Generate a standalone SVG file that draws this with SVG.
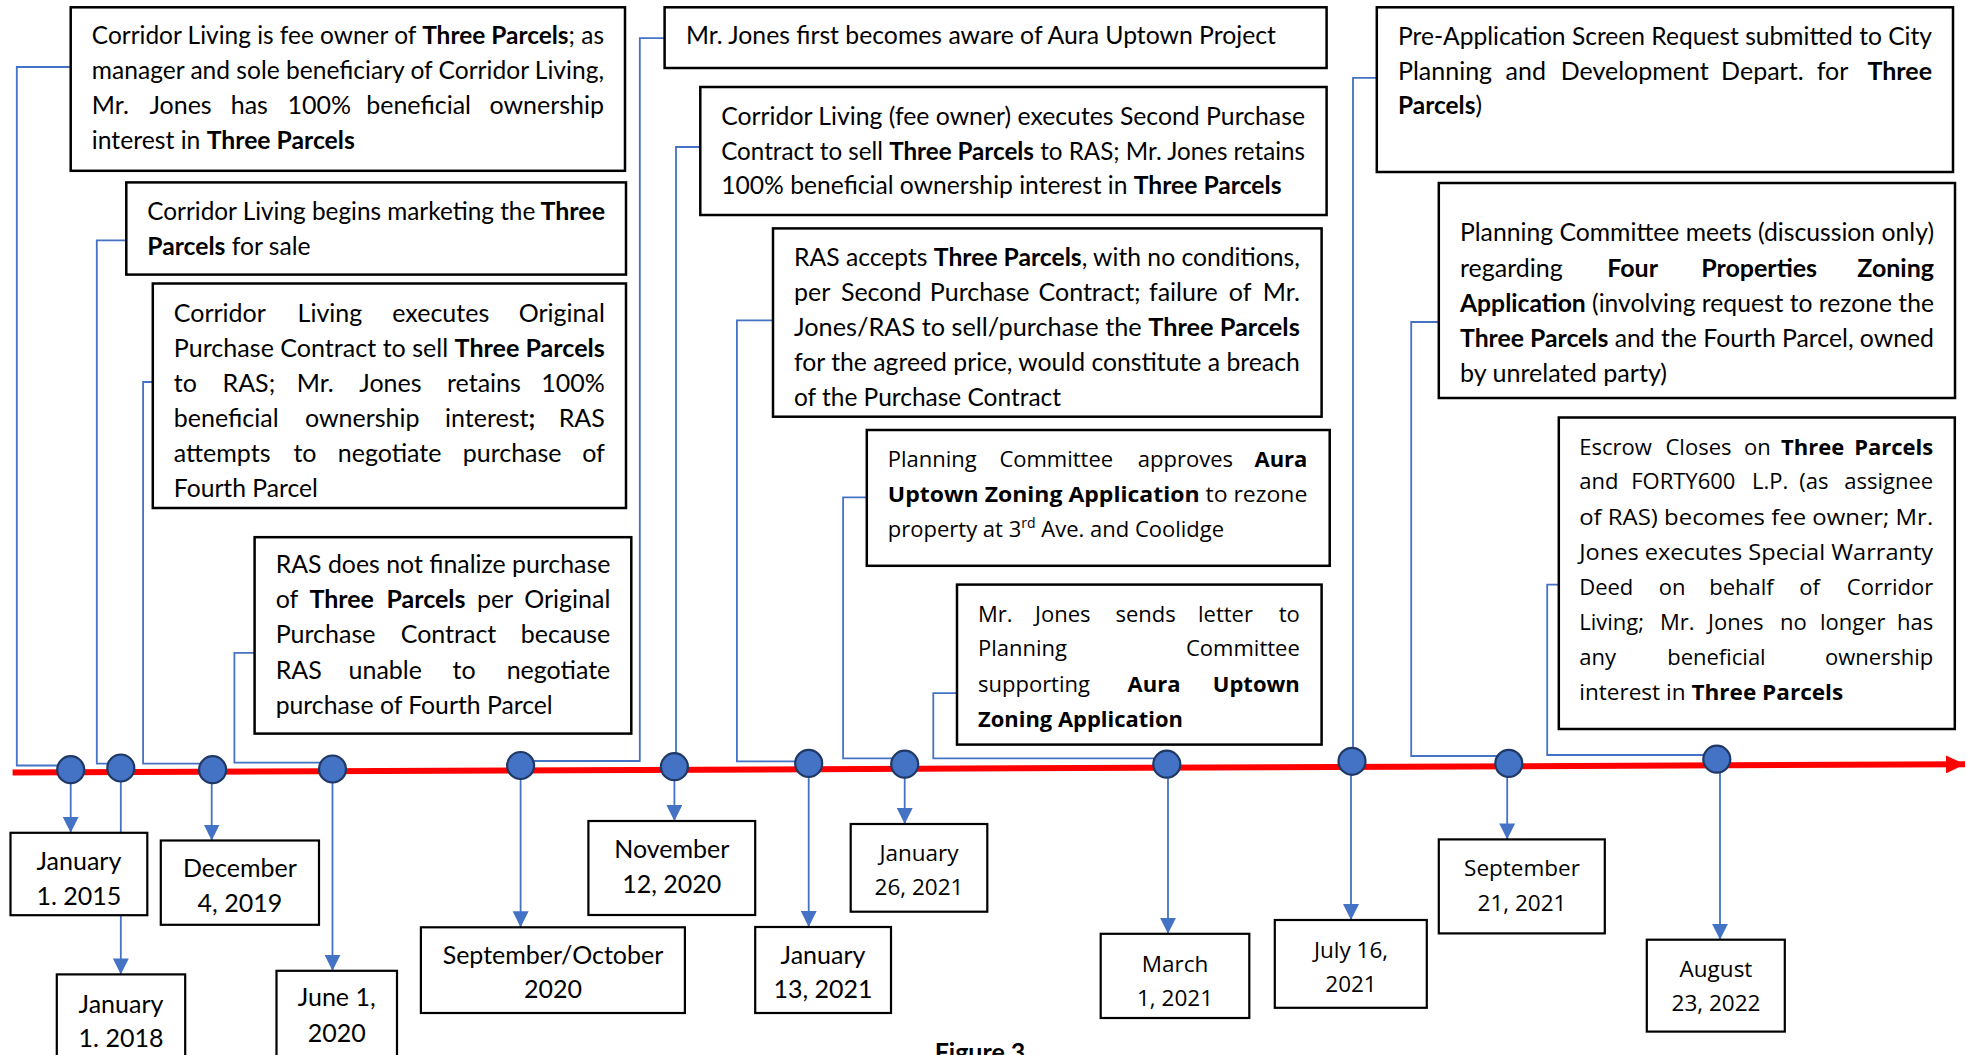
<svg xmlns="http://www.w3.org/2000/svg" width="1967" height="1055" viewBox="0 0 1967 1055">
<style>
.box{fill:#fff;stroke:#000;stroke-width:2.5}
.dbox{fill:#fff;stroke:#000;stroke-width:2.2}
.t{font-family:Lato,"Liberation Sans",sans-serif;font-size:25px;fill:#000}
.s{font-family:"Open Sans","Liberation Sans",sans-serif;font-size:22px;fill:#000}
.ds{font-family:"Open Sans","Liberation Sans",sans-serif;font-size:22.5px;fill:#000}
.b{font-weight:bold}
.c{text-anchor:middle}
.e{text-anchor:end}
.conn{fill:none;stroke:#4472C4;stroke-width:1.8}
.arr{fill:none;stroke:#4472C4;stroke-width:1.8;marker-end:url(#ah)}
.dot{fill:#4472C4;stroke:#1F3864;stroke-width:2.2}
</style>
<defs>
<marker id="ah" markerUnits="userSpaceOnUse" markerWidth="16" markerHeight="16" refX="16" refY="8" orient="auto">
<path d="M0,0 L16,8 L0,16 z" fill="#4472C4"/>
</marker>
<marker id="rh" markerUnits="userSpaceOnUse" markerWidth="20" markerHeight="18" refX="19" refY="9" orient="auto">
<path d="M0,0 L19,9 L0,18 z" fill="#FF0000"/>
</marker>
</defs>

<g id="timeline">
<line x1="12.6" y1="772.6" x2="1965" y2="764.3" stroke="#FF0000" stroke-width="6" marker-end="url(#rh)"/>
</g>

<g id="connectors">
<path class="conn" d="M70.7,67 H16.8 V765.5 H70.7"/>
<path class="conn" d="M126.3,240.4 H96.8 V763.7 H120.8"/>
<path class="conn" d="M152.8,382 H143.1 V763.7 H212.6"/>
<path class="conn" d="M254.6,652.9 H234.4 V762.7 H332.5"/>
<path class="conn" d="M664.6,38.2 H639.8 V761 H520.6"/>
<path class="conn" d="M700.3,147 H676 V766.7"/>
<path class="conn" d="M773,320.4 H736.9 V761.3 H808.7"/>
<path class="conn" d="M866.8,497.3 H843.1 V758.4 H904.7"/>
<path class="conn" d="M957,693.2 H933.3 V758.4 H1166.8"/>
<path class="conn" d="M1376.8,77.8 H1353 V761.3"/>
<path class="conn" d="M1438.8,322 H1411.2 V756 H1508.8"/>
<path class="conn" d="M1558.8,584.6 H1547.2 V755 H1716.8"/>
<path class="arr" d="M70.7,770 V832.8"/>
<path class="arr" d="M120.8,768 V974.4"/>
<path class="arr" d="M211.7,770 V840.5"/>
<path class="arr" d="M332.5,769 V970.8"/>
<path class="arr" d="M520.6,765 V927.3"/>
<path class="arr" d="M674.4,767 V821"/>
<path class="arr" d="M808.7,763 V927"/>
<path class="arr" d="M904.7,764 V824"/>
<path class="arr" d="M1168,764 V933.8"/>
<path class="arr" d="M1351,761 V920"/>
<path class="arr" d="M1507.2,763 V839.4"/>
<path class="arr" d="M1720,759 V939.7"/>
</g>

<g id="dots">
<circle class="dot" cx="70.7" cy="769.7" r="13.5"/>
<circle class="dot" cx="120.8" cy="768" r="13.5"/>
<circle class="dot" cx="212.6" cy="769.7" r="13.5"/>
<circle class="dot" cx="332.5" cy="769" r="13.5"/>
<circle class="dot" cx="520.6" cy="765.5" r="13.5"/>
<circle class="dot" cx="674.4" cy="766.7" r="13.5"/>
<circle class="dot" cx="808.7" cy="763.4" r="13.5"/>
<circle class="dot" cx="904.7" cy="764.2" r="13.5"/>
<circle class="dot" cx="1166.8" cy="764.2" r="13.5"/>
<circle class="dot" cx="1352" cy="761.3" r="13.5"/>
<circle class="dot" cx="1508.8" cy="763.4" r="13.5"/>
<circle class="dot" cx="1716.8" cy="759.2" r="13.5"/>
</g>

<g id="evA">
<rect class="box" x="70.7" y="7.3" width="554.3" height="163.5"/>
<text class="t" x="91.8" y="44" textLength="512.2" lengthAdjust="spacingAndGlyphs">Corridor Living is fee owner of <tspan class="b">Three Parcels</tspan>; as</text>
<text class="t" x="91.8" y="79" textLength="512.2" lengthAdjust="spacingAndGlyphs">manager and sole beneficiary of Corridor Living,</text>
<text class="t" y="114"><tspan x="91.8">Mr.</tspan><tspan x="149.4">Jones</tspan><tspan x="230.7">has</tspan><tspan x="287.5">100%</tspan><tspan x="366.2">beneficial</tspan><tspan x="604" class="e">ownership</tspan></text>
<text class="t" x="91.8" y="149" textLength="263" lengthAdjust="spacingAndGlyphs">interest in <tspan class="b">Three Parcels</tspan></text>
</g>

<g id="evB">
<rect class="box" x="126.3" y="182.4" width="499.7" height="92.2"/>
<text class="t" y="220"><tspan x="147.3" textLength="388" lengthAdjust="spacingAndGlyphs">Corridor Living begins marketing the</tspan><tspan x="605" class="e b">Three</tspan></text>
<text class="t" x="147.3" y="255" textLength="163.3" lengthAdjust="spacingAndGlyphs"><tspan class="b">Parcels</tspan> for sale</text>
</g>

<g id="evC">
<rect class="box" x="152.8" y="283.5" width="473.2" height="224.5"/>
<text class="t" y="321.5"><tspan x="173.8">Corridor</tspan><tspan x="297.6">Living</tspan><tspan x="392.3">executes</tspan><tspan x="604.8" class="e">Original</tspan></text>
<text class="t" x="173.8" y="356.5" textLength="431" lengthAdjust="spacingAndGlyphs">Purchase Contract to sell <tspan class="b">Three Parcels</tspan></text>
<text class="t" y="391.5"><tspan x="173.8">to</tspan><tspan x="222.5">RAS;</tspan><tspan x="296.7">Mr.</tspan><tspan x="359.3">Jones</tspan><tspan x="447">retains</tspan><tspan x="604.8" class="e">100%</tspan></text>
<text class="t" y="426.5"><tspan x="173.8">beneficial</tspan><tspan x="304.9">ownership</tspan><tspan x="445.1">interest<tspan class="b">;</tspan></tspan><tspan x="604.8" class="e">RAS</tspan></text>
<text class="t" y="461.5"><tspan x="173.8">attempts</tspan><tspan x="293.4">to</tspan><tspan x="337.8">negotiate</tspan><tspan x="462.7">purchase</tspan><tspan x="604.8" class="e">of</tspan></text>
<text class="t" x="173.8" y="496.5" textLength="144" lengthAdjust="spacingAndGlyphs">Fourth Parcel</text>
</g>

<g id="evD">
<rect class="box" x="254.6" y="537.2" width="376.7" height="196.4"/>
<text class="t" x="275.7" y="573" textLength="334.6" lengthAdjust="spacingAndGlyphs">RAS does not finalize purchase</text>
<text class="t" y="608"><tspan x="275.7">of</tspan><tspan x="309.4" class="b">Three</tspan><tspan x="386.4" class="b">Parcels</tspan><tspan x="476.9">per</tspan><tspan x="610.3" class="e">Original</tspan></text>
<text class="t" y="643"><tspan x="275.7">Purchase</tspan><tspan x="400.7">Contract</tspan><tspan x="610.3" class="e">because</tspan></text>
<text class="t" y="679"><tspan x="275.7">RAS</tspan><tspan x="348.5">unable</tspan><tspan x="452.5">to</tspan><tspan x="610.3" class="e">negotiate</tspan></text>
<text class="t" x="275.7" y="714" textLength="277" lengthAdjust="spacingAndGlyphs">purchase of Fourth Parcel</text>
</g>

<g id="evE">
<rect class="box" x="664.6" y="7.3" width="662" height="60.7"/>
<text class="t" x="686" y="44" textLength="590" lengthAdjust="spacingAndGlyphs">Mr. Jones first becomes aware of Aura Uptown Project</text>
</g>

<g id="evF">
<rect class="box" x="700.3" y="87" width="626.3" height="128"/>
<text class="t" x="721.2" y="125" textLength="583.8" lengthAdjust="spacingAndGlyphs">Corridor Living (fee owner) executes Second Purchase</text>
<text class="t" x="721.2" y="159.5" textLength="583.8" lengthAdjust="spacingAndGlyphs">Contract to sell <tspan class="b">Three Parcels</tspan> to RAS; Mr. Jones retains</text>
<text class="t" x="721.2" y="194" textLength="560.3" lengthAdjust="spacingAndGlyphs">100% beneficial ownership interest in <tspan class="b">Three Parcels</tspan></text>
</g>

<g id="evG">
<rect class="box" x="773" y="228.4" width="548.6" height="188.3"/>
<text class="t" x="794" y="266" textLength="505.8" lengthAdjust="spacingAndGlyphs">RAS accepts <tspan class="b">Three Parcels</tspan>, with no conditions,</text>
<text class="t" y="301"><tspan x="794">per</tspan><tspan x="840.9">Second</tspan><tspan x="929.8">Purchase</tspan><tspan x="1038.5">Contract;</tspan><tspan x="1149">failure</tspan><tspan x="1228.8">of</tspan><tspan x="1299.8" class="e">Mr.</tspan></text>
<text class="t" x="794" y="336" textLength="505.8" lengthAdjust="spacingAndGlyphs">Jones/RAS to sell/purchase the <tspan class="b">Three Parcels</tspan></text>
<text class="t" x="794" y="371" textLength="505.8" lengthAdjust="spacingAndGlyphs">for the agreed price, would constitute a breach</text>
<text class="t" x="794" y="406" textLength="267" lengthAdjust="spacingAndGlyphs">of the Purchase Contract</text>
</g>

<g id="evH">
<rect class="box" x="866.8" y="430" width="462.9" height="135.8"/>
<text class="s" y="467"><tspan x="887.8">Planning</tspan><tspan x="999.4">Committee</tspan><tspan x="1137.8">approves</tspan><tspan x="1307.4" class="e b">Aura</tspan></text>
<text class="s" x="887.8" y="502" textLength="419.6" lengthAdjust="spacingAndGlyphs"><tspan class="b">Uptown Zoning Application</tspan> to rezone</text>
<text class="s" x="887.8" y="537" font-size="22.8">property at 3<tspan dy="-9" font-size="14">rd</tspan><tspan dy="9"> Ave. and Coolidge</tspan></text>
</g>

<g id="evI">
<rect class="box" x="957" y="584.6" width="364.6" height="160"/>
<text class="s" y="621.5"><tspan x="978">Mr.</tspan><tspan x="1035">Jones</tspan><tspan x="1115.4">sends</tspan><tspan x="1198">letter</tspan><tspan x="1299.8" class="e">to</tspan></text>
<text class="s" y="656"><tspan x="978">Planning</tspan><tspan x="1299.8" class="e">Committee</tspan></text>
<text class="s" y="691.5"><tspan x="978">supporting</tspan><tspan x="1127.5" class="b">Aura</tspan><tspan x="1299.8" class="e b">Uptown</tspan></text>
<text class="s b" x="978" y="726.5" textLength="205" lengthAdjust="spacingAndGlyphs">Zoning Application</text>
</g>

<g id="evJ">
<rect class="box" x="1376.8" y="7.3" width="576.2" height="164.7"/>
<text class="t" x="1398" y="44.5" textLength="534" lengthAdjust="spacingAndGlyphs">Pre-Application Screen Request submitted to City</text>
<text class="t" y="79.5"><tspan x="1398">Planning</tspan><tspan x="1505.5">and</tspan><tspan x="1560.7">Development</tspan><tspan x="1721.1">Depart.</tspan><tspan x="1816.7">for</tspan><tspan x="1932" class="e b">Three</tspan></text>
<text class="t" x="1398" y="114" textLength="84" lengthAdjust="spacingAndGlyphs"><tspan class="b">Parcels</tspan>)</text>
</g>

<g id="evK">
<rect class="box" x="1438.8" y="183" width="516.2" height="215"/>
<text class="t" x="1460" y="241" textLength="474" lengthAdjust="spacingAndGlyphs">Planning Committee meets (discussion only)</text>
<text class="t" y="276.5"><tspan x="1460">regarding</tspan><tspan x="1607.2" class="b">Four</tspan><tspan x="1701.2" class="b">Properties</tspan><tspan x="1934" class="e b">Zoning</tspan></text>
<text class="t" x="1460" y="312" textLength="474" lengthAdjust="spacingAndGlyphs"><tspan class="b">Application</tspan> (involving request to rezone the</text>
<text class="t" x="1460" y="347" textLength="474" lengthAdjust="spacingAndGlyphs"><tspan class="b">Three Parcels</tspan> and the Fourth Parcel, owned</text>
<text class="t" x="1460" y="381.5" textLength="207" lengthAdjust="spacingAndGlyphs">by unrelated party)</text>
</g>

<g id="evL">
<rect class="box" x="1558.8" y="417.5" width="396" height="311.5"/>
<text class="s" y="454.5"><tspan x="1579.2">Escrow</tspan><tspan x="1665.5">Closes</tspan><tspan x="1743.9">on</tspan><tspan x="1781" class="b">Three</tspan><tspan x="1933.2" class="e b">Parcels</tspan></text>
<text class="s" y="489"><tspan x="1579.2">and</tspan><tspan x="1631.2">FORTY600</tspan><tspan x="1752">L.P.</tspan><tspan x="1799.2">(as</tspan><tspan x="1933.2" class="e">assignee</tspan></text>
<text class="s" x="1579.2" y="524.5" textLength="354" lengthAdjust="spacingAndGlyphs">of RAS) becomes fee owner; Mr.</text>
<text class="s" x="1579.2" y="559.5" textLength="354" lengthAdjust="spacingAndGlyphs">Jones executes Special Warranty</text>
<text class="s" y="595"><tspan x="1579.2">Deed</tspan><tspan x="1658.8">on</tspan><tspan x="1709.2">behalf</tspan><tspan x="1799.2">of</tspan><tspan x="1933.2" class="e">Corridor</tspan></text>
<text class="s" y="630"><tspan x="1579.2">Living;</tspan><tspan x="1660">Mr.</tspan><tspan x="1708">Jones</tspan><tspan x="1780">no</tspan><tspan x="1820">longer</tspan><tspan x="1933.2" class="e">has</tspan></text>
<text class="s" y="665"><tspan x="1579.2">any</tspan><tspan x="1667.2">beneficial</tspan><tspan x="1933.2" class="e">ownership</tspan></text>
<text class="s" x="1579.2" y="700" textLength="264" lengthAdjust="spacingAndGlyphs">interest in <tspan class="b">Three Parcels</tspan></text>
</g>

<g id="d2015">
<rect class="dbox" x="10.5" y="832.8" width="136.8" height="82.4"/>
<text class="t c" x="78.9" y="870">January</text>
<text class="t c" x="78.9" y="905">1. 2015</text>
</g>
<g id="d2018">
<rect class="dbox" x="56.8" y="974.4" width="128.4" height="100"/>
<text class="t c" x="121" y="1013">January</text>
<text class="t c" x="121" y="1047">1. 2018</text>
</g>
<g id="d2019">
<rect class="dbox" x="160.8" y="840.5" width="158.2" height="84.3"/>
<text class="t c" x="239.9" y="877">December</text>
<text class="t c" x="239.9" y="912">4, 2019</text>
</g>
<g id="d2020jun">
<rect class="dbox" x="276.5" y="970.8" width="120.5" height="100"/>
<text class="t c" x="336.7" y="1006">June 1,</text>
<text class="t c" x="336.7" y="1041.5">2020</text>
</g>
<g id="d2020sep">
<rect class="dbox" x="420.9" y="927.3" width="264" height="85.7"/>
<text class="t c" x="553" y="963.5">September/October</text>
<text class="t c" x="553" y="997.5">2020</text>
</g>
<g id="d2020nov">
<rect class="dbox" x="588.4" y="821" width="166.8" height="94"/>
<text class="t c" x="671.8" y="857.5">November</text>
<text class="t c" x="671.8" y="893">12, 2020</text>
</g>
<g id="d2021jan13">
<rect class="dbox" x="755.2" y="927" width="135.8" height="86"/>
<text class="t c" x="823" y="964">January</text>
<text class="t c" x="823" y="998">13, 2021</text>
</g>
<g id="d2021jan26">
<rect class="dbox" x="850.7" y="824" width="136.6" height="87.7"/>
<text class="ds c" x="919" y="860.5">January</text>
<text class="ds c" x="919" y="895">26, 2021</text>
</g>
<g id="d2021mar">
<rect class="dbox" x="1100.7" y="933.8" width="148.6" height="84.2"/>
<text class="ds c" x="1175" y="971.5">March</text>
<text class="ds c" x="1175" y="1005.5">1, 2021</text>
</g>
<g id="d2021jul">
<rect class="dbox" x="1274.8" y="920" width="152" height="87.8"/>
<text class="ds c" x="1351" y="957.5">July 16,</text>
<text class="ds c" x="1351" y="992">2021</text>
</g>
<g id="d2021sep">
<rect class="dbox" x="1438.8" y="839.4" width="166" height="94"/>
<text class="ds c" x="1522" y="876">September</text>
<text class="ds c" x="1522" y="910.5">21, 2021</text>
</g>
<g id="d2022aug">
<rect class="dbox" x="1646.8" y="939.7" width="138" height="91.9"/>
<text class="ds c" x="1716" y="976.5">August</text>
<text class="ds c" x="1716" y="1010.5">23, 2022</text>
</g>

<g id="caption">
<text class="t b c" x="980" y="1061" font-size="30">Figure 3</text>
</g>
</svg>
